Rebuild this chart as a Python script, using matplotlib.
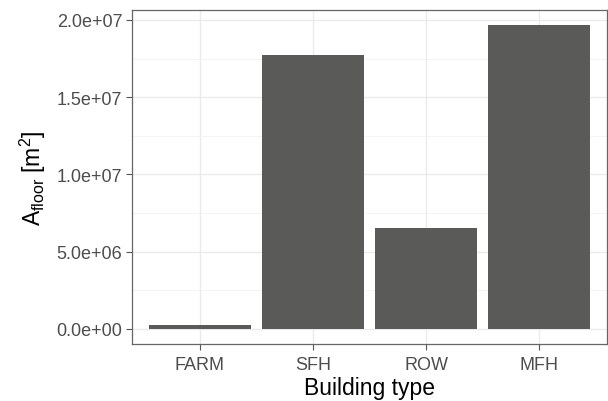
import matplotlib
matplotlib.use("Agg")
import matplotlib.pyplot as plt

plt.rcParams["font.family"] = ["Liberation Sans", "DejaVu Sans"]
plt.rcParams["mathtext.fontset"] = "custom"
plt.rcParams["mathtext.rm"] = "Liberation Sans"
plt.rcParams["mathtext.it"] = "Liberation Sans"

building_types = ["FARM", "SFH", "ROW", "MFH"]
floor_area = [2.5e5, 1.774e7, 6.56e6, 1.966e7]
y_ticks = [0, 5e6, 1e7, 1.5e7, 2e7]
y_tick_labels = ["0.0e+00", "5.0e+06", "1.0e+07", "1.5e+07", "2.0e+07"]

fig = plt.figure(figsize=(6.08, 4.02), dpi=100)
ax = fig.add_axes([132 / 608, 1 - 345 / 402, 475 / 608, 334 / 402])

x = range(1, len(building_types) + 1)
ax.bar(x, floor_area, width=0.9, color="#5a5a58", zorder=3)

ymax = max(floor_area)
pad = 0.05 * ymax
ax.set_ylim(-pad, ymax + pad)
ax.set_xlim(0.4, 4.6)

ax.set_xticks(list(x))
ax.set_xticklabels(building_types)
ax.set_yticks(y_ticks)
ax.set_yticklabels(y_tick_labels)
ax.set_yticks([2.5e6, 7.5e6, 1.25e7, 1.75e7], minor=True)

ax.grid(True, which="major", color="#EBEBEB", linewidth=1.0, zorder=0)
ax.grid(True, which="minor", axis="y", color="#F2F2F2", linewidth=0.6, zorder=0)
ax.tick_params(axis="both", which="major", colors="#555555", labelcolor="#4D4D4D",
               labelsize=13, length=4, width=0.8, pad=3)
ax.tick_params(axis="x", which="major", pad=5)
ax.tick_params(axis="y", which="minor", length=0)
for s in ax.spines.values():
    s.set_color("#666666")
    s.set_linewidth(0.9)

ax.set_xlabel("Building type", fontsize=16.5, color="black", labelpad=2)
ax.set_ylabel(r"$\mathregular{A_{floor}\ [m^2]}$", fontsize=16.5, color="black", labelpad=6)

fig.savefig("out.png", dpi=100)
